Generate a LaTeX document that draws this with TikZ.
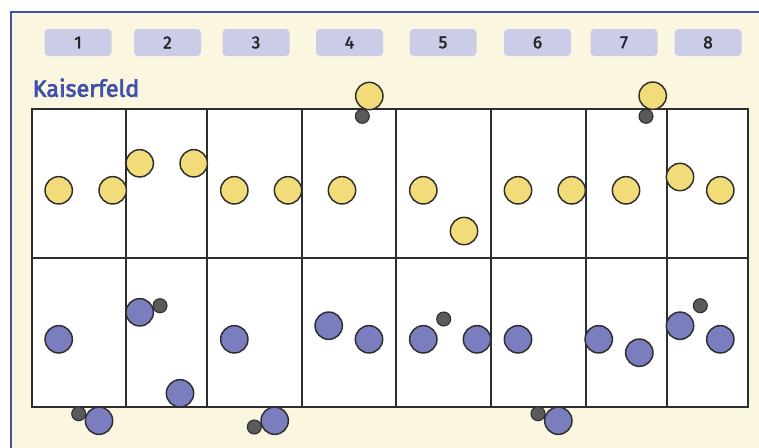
\documentclass[tikz,border=0pt]{standalone}
\usepackage{fontspec}
\setmainfont{Fira Sans}
\newfontfamily\medfont{Fira Sans}[FakeBold=2]
\newfontfamily\titlefont{Fira Sans}[FakeBold=3]
\definecolor{cream}{HTML}{FBF6E0}
\definecolor{frameblue}{HTML}{3F51A8}
\definecolor{boxfill}{HTML}{CBCDE8}
\definecolor{ylw}{HTML}{F2DC7A}
\definecolor{blu}{HTML}{7A7DBE}
\definecolor{drk}{HTML}{5A5A5A}
\definecolor{edge}{HTML}{2E2E2E}
\tikzset{
  numbox/.style={rectangle, rounded corners=3pt, fill=boxfill, minimum width=50.25pt, minimum height=20.25pt, inner sep=0pt, font=\medfont\fontsize{13}{13}\selectfont, text=black!85},
  ycirc/.style={circle, draw=edge, line width=1.1pt, fill=ylw, minimum size=20.5pt, inner sep=0pt},
  bcirc/.style={circle, draw=edge, line width=1.1pt, fill=blu, minimum size=20.5pt, inner sep=0pt},
  dcirc/.style={circle, draw=edge, line width=0.8pt, fill=drk, minimum size=10.5pt, inner sep=0pt},
  gridline/.style={draw=edge, line width=1.4pt},
}
\begin{document}
\begin{tikzpicture}[x=0.75pt,y=-0.75pt]
\clip (0,0) rectangle (759,447);
\fill[white] (0,0) rectangle (759,447);
\draw[frameblue, line width=2pt, fill=cream] (11,12) rectangle (800,500);
% column labels
\node[numbox] (n1) at (78,42.5) {1};
\node[numbox] (n2) at (167.5,42.5) {2};
\node[numbox] (n3) at (256,42.5) {3};
\node[numbox] (n4) at (349.5,42.5) {4};
\node[numbox] (n5) at (443,42.5) {5};
\node[numbox] (n6) at (537.5,42.5) {6};
\node[numbox] (n7) at (624,42.5) {7};
\node[numbox] (n8) at (708,42.5) {8};
\node[anchor=base west, inner sep=0pt, text=frameblue, font=\titlefont\fontsize{17.5}{17.5}\selectfont] (title) at (32.5,96.7) {Kaiserfeld};
% grid
\fill[white] (31.7,109.3) rectangle (748,406.7);
\draw[gridline] (31.7,109.3) rectangle (748,406.7);
\draw[gridline] (31.7,257.7) -- (748,257.7);
\foreach \x in {126.3,207.3,302,396.3,491,585.7,666.7}
  \draw[gridline] (\x,109.3) -- (\x,406.7);
% dark small circles near top
\node[dcirc] (d4) at (362.3,116.3) {};
\node[dcirc] (d7) at (646,116.3) {};
% yellow circles
\node[ycirc] (y1a) at (58.7,190.3) {};
\node[ycirc] (y1b) at (112.7,190.3) {};
\node[ycirc] (y2a) at (139.7,163.3) {};
\node[ycirc] (y2b) at (193.7,163.3) {};
\node[ycirc] (y3a) at (234.3,190.3) {};
\node[ycirc] (y3b) at (288,190.3) {};
\node[ycirc] (y4a) at (342,190.3) {};
\node[ycirc] (y4t) at (369.3,96) {};
\node[ycirc] (y5a) at (423.3,190.3) {};
\node[ycirc] (y5b) at (464,231) {};
\node[ycirc] (y6a) at (518,190.3) {};
\node[ycirc] (y6b) at (571.7,190.3) {};
\node[ycirc] (y7a) at (626,190.3) {};
\node[ycirc] (y7t) at (652.7,95.7) {};
\node[ycirc] (y8a) at (680,177) {};
\node[ycirc] (y8b) at (720.3,190.3) {};
% blue circles
\node[bcirc] (b1a) at (58.7,339.3) {};
\node[dcirc] (d1) at (78.7,413.7) {};
\node[bcirc] (b1o) at (99,420.7) {};
\node[dcirc] (d2) at (160,305.7) {};
\node[bcirc] (b2a) at (139.7,312.3) {};
\node[bcirc] (b2b) at (180,393.3) {};
\node[bcirc] (b3a) at (234.3,339.3) {};
\node[dcirc] (d3) at (254.3,427) {};
\node[bcirc] (b3o) at (274.7,420.7) {};
\node[bcirc] (b4a) at (328.7,325.7) {};
\node[bcirc] (b4b) at (369,339.3) {};
\node[dcirc] (d5) at (443.7,319) {};
\node[bcirc] (b5a) at (423.3,339.3) {};
\node[bcirc] (b5b) at (477,339.3) {};
\node[bcirc] (b6a) at (518,339.3) {};
\node[dcirc] (d6) at (538,413.7) {};
\node[bcirc] (b6o) at (558.3,420.7) {};
\node[bcirc] (b7a) at (598.7,339.3) {};
\node[bcirc] (b7b) at (639.3,352.7) {};
\node[dcirc] (d8) at (700.3,305.7) {};
\node[bcirc] (b8a) at (680,325.7) {};
\node[bcirc] (b8b) at (720.3,339.3) {};
\end{tikzpicture}
\end{document}
